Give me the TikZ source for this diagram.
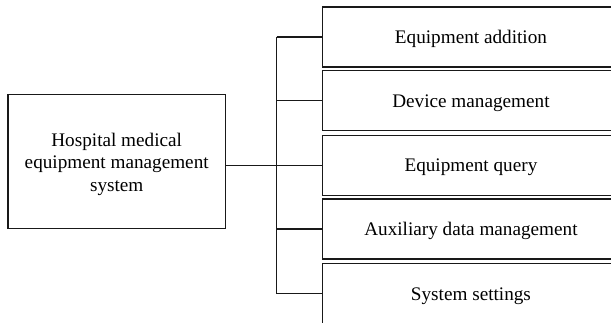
\documentclass[tikz,border=0pt]{standalone}
\usepackage{fontspec}
\setmainfont{Liberation Serif}
\begin{document}
\begin{tikzpicture}[x=1pt,y=-1pt,
  txt/.style={font=\fontsize{19.2}{22.5}\selectfont,align=center,inner sep=0pt},
  box/.style={draw=black!90,line width=1.5pt,fill=white,inner sep=0pt},
  subbox/.style={box,txt,minimum width=297pt,minimum height=60pt,anchor=west,
    text height=17pt,text depth=4pt},
  link/.style={draw=black!90,line width=1.5pt}]
\useasboundingbox (0,0) rectangle (611,322);
\clip (0,0) rectangle (611,322);

% root of the hierarchy
\node[box,minimum width=217.3pt,minimum height=133.6pt] (root) at (116.7,161.5) {};
\node[txt] (roottext) at ([yshift=-2.5pt]root.center)
  {Hospital medical\\equipment management\\system};

% sub-modules
\node[subbox] (m1) at (321.7,36.9)  {Equipment addition};
\node[subbox] (m2) at (321.7,100.5) {Device management};
\node[subbox] (m3) at (321.7,165.3) {Equipment query};
\node[subbox] (m4) at (321.7,229.0) {Auxiliary data management};
\node[subbox] (m5) at (321.7,293.5) {System settings};

% trunk and branches
\coordinate (trunk) at (276.7,0);
\draw[link] (m3.west -| root.east) -- (m3.west);
\draw[link] (m1.west -| trunk) -- (m5.west -| trunk);
\foreach \m in {m1,m2,m4,m5}
  \draw[link] (\m.west -| trunk) -- (\m.west);
\end{tikzpicture}
\end{document}
